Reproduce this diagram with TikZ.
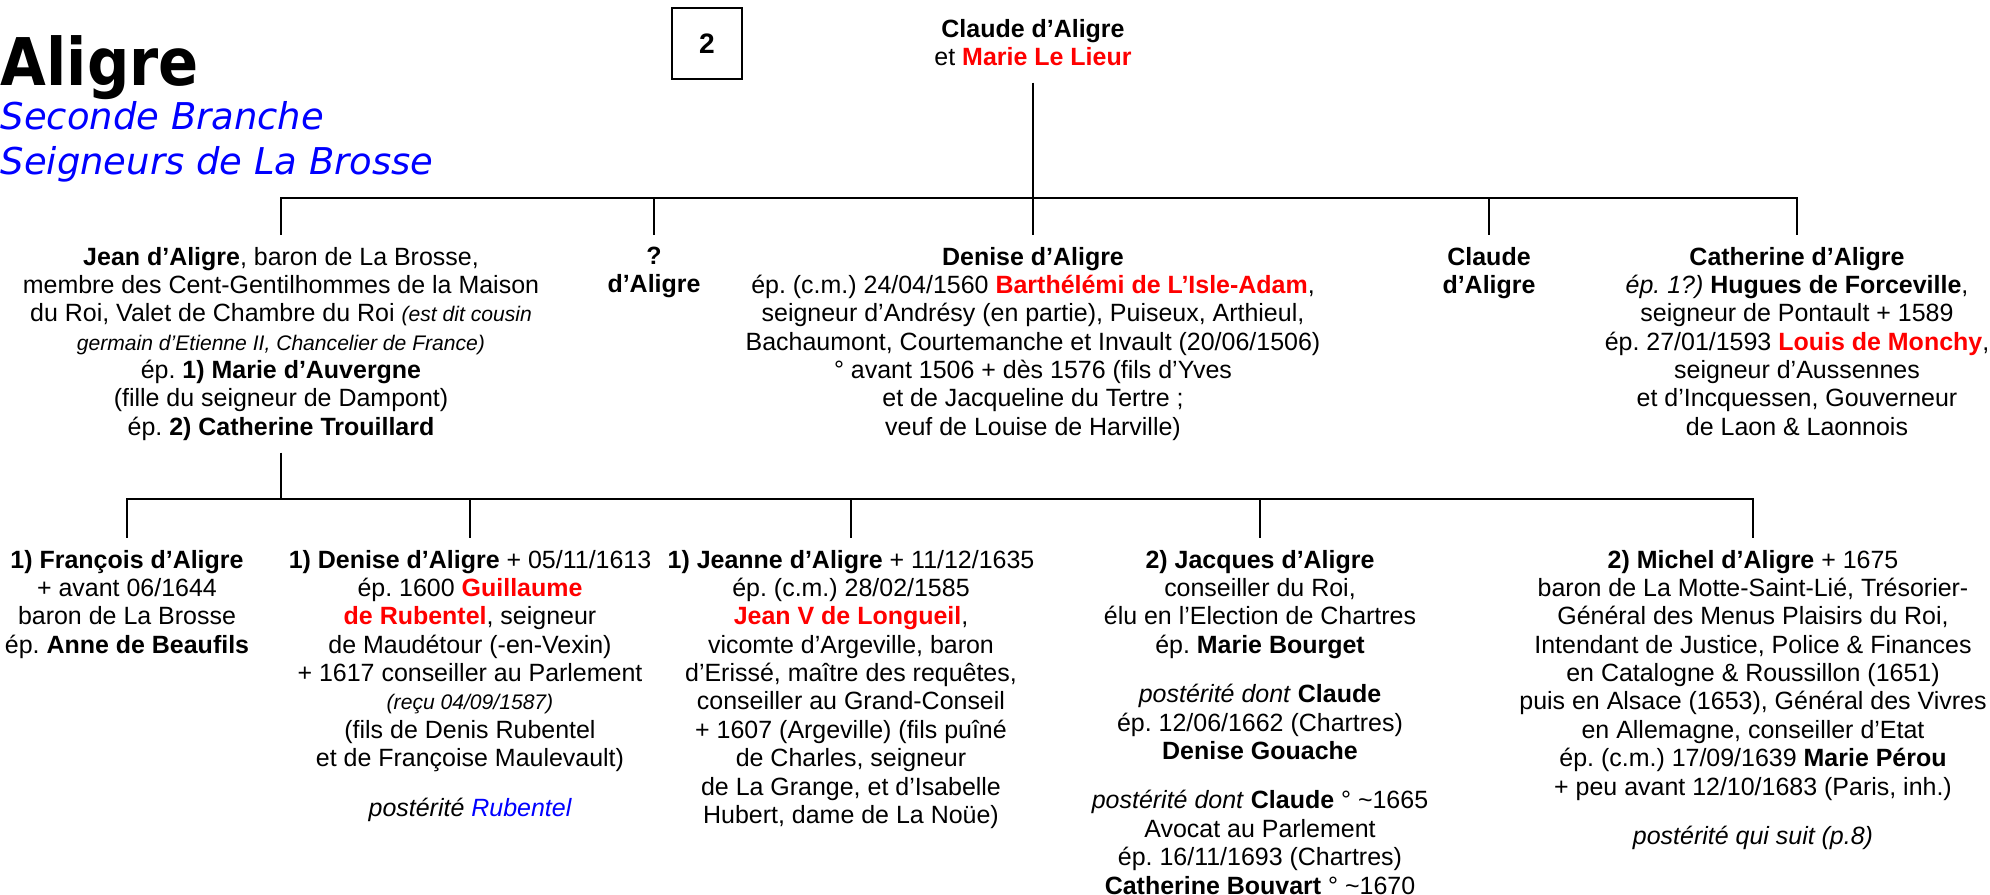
\documentclass[tikz,border=0pt]{standalone}
\usepackage{fontspec}
\setmainfont{Liberation Sans}
\newfontfamily\titrefont[FakeStretch=0.9]{DejaVu Sans}
\newfontfamily\sousfont{DejaVu Sans}
\usetikzlibrary{positioning,calc}
\definecolor{nomrouge}{RGB}{255,0,0}
\definecolor{nombleu}{RGB}{0,0,255}
\newcommand{\rouge}[1]{\textcolor{nomrouge}{\textbf{#1}}}
\newcommand{\petit}[1]{{\fontsize{6}{8.07}\selectfont\itshape #1}}
\frenchspacing

\begin{document}
\begin{tikzpicture}[x=0.01cm,y=-0.01cm,
  person/.style={anchor=north,align=center,inner sep=0pt,outer ysep=0.12cm,
    font=\fontsize{7.1}{8.07}\selectfont},
  bar/.style={line width=0.8pt}]
  \useasboundingbox (0,0) rectangle (1990,895);
  % Title
  \node[anchor=base west,inner sep=0pt,
    font=\titrefont\bfseries\fontsize{18.7}{20}\selectfont] (titre) at (0,86) {Aligre};
  \node[anchor=base west,inner sep=0pt,text=nombleu,
    font=\sousfont\itshape\fontsize{10.5}{12}\selectfont] (branche) at (0,130) {Seconde Branche};
  \node[anchor=base west,inner sep=0pt,text=nombleu,
    font=\sousfont\itshape\fontsize{10.5}{12}\selectfont] (seigneurs) at (0,175) {Seigneurs de La Brosse};
  \node[draw,line width=0.45pt,minimum width=0.7cm,minimum height=0.71cm,
    font=\bfseries\fontsize{8}{9}\selectfont] (numero) at (707,43.5) {2};
  % Parents
  \node[person,outer ysep=0.17cm] (parents) at (1033,2)
    {\textbf{Claude d’Aligre}\\ et \rouge{Marie Le Lieur}};
  \coordinate (barre1) at (0,198);
  \coordinate (barre2) at (0,499);
  % Children
  \node[person] (jean) at (281,235)
    {\textbf{Jean d’Aligre}, baron de La Brosse,\\
     membre des Cent-Gentilhommes de la Maison\\
     du Roi, Valet de Chambre du Roi \petit{(est dit cousin}\\
     \petit{germain d’Etienne II, Chancelier de France)}\\
     ép. \textbf{1) Marie d’Auvergne}\\
     (fille du seigneur de Dampont)\\
     ép. \textbf{2) Catherine Trouillard}};
  \node[person] (inconnu) at (654,235) {\textbf{?}\\ \textbf{d’Aligre}};
  \node[person] (denise) at (1033,235)
    {\textbf{Denise d’Aligre}\\
     ép. (c.m.) 24/04/1560 \rouge{Barthélémi de L’Isle-Adam},\\
     seigneur d’Andrésy (en partie), Puiseux, Arthieul,\\
     Bachaumont, Courtemanche et Invault (20/06/1506)\\
     ° avant 1506 + dès 1576 (fils d’Yves\\
     et de Jacqueline du Tertre ;\\
     veuf de Louise de Harville)};
  \node[person] (claude) at (1489,235) {\textbf{Claude}\\ \textbf{d’Aligre}};
  \node[person] (catherine) at (1797,235)
    {\textbf{Catherine d’Aligre}\\
     \textit{ép. 1?)} \textbf{Hugues de Forceville},\\
     seigneur de Pontault + 1589\\
     ép. 27/01/1593 \rouge{Louis de Monchy},\\
     seigneur d’Aussennes\\
     et d’Incquessen, Gouverneur\\
     de Laon \& Laonnois};
  % Grandchildren
  \node[person] (francois) at (127,538)
    {\textbf{1) François d’Aligre}\\
     + avant 06/1644\\
     baron de La Brosse\\
     ép. \textbf{Anne de Beaufils}};
  \node[person] (denise2) at (470,538)
    {\textbf{1) Denise d’Aligre} + 05/11/1613\\
     ép. 1600 \rouge{Guillaume}\\
     \rouge{de Rubentel}, seigneur\\
     de Maudétour (-en-Vexin)\\
     + 1617 conseiller au Parlement\\
     \petit{(reçu 04/09/1587)}\\
     (fils de Denis Rubentel\\
     et de Françoise Maulevault)\\[6pt]
     \textit{postérité \textcolor{nombleu}{Rubentel}}};
  \node[person] (jeanne) at (851,538)
    {\textbf{1) Jeanne d’Aligre} + 11/12/1635\\
     ép. (c.m.) 28/02/1585\\
     \rouge{Jean V de Longueil},\\
     vicomte d’Argeville, baron\\
     d’Erissé, maître des requêtes,\\
     conseiller au Grand-Conseil\\
     + 1607 (Argeville) (fils puîné\\
     de Charles, seigneur\\
     de La Grange, et d’Isabelle\\
     Hubert, dame de La Noüe)};
  \node[person] (jacques) at (1260,538)
    {\textbf{2) Jacques d’Aligre}\\
     conseiller du Roi,\\
     élu en l’Election de Chartres\\
     ép. \textbf{Marie Bourget}\\[6pt]
     \textit{postérité dont} \textbf{Claude}\\
     ép. 12/06/1662 (Chartres)\\
     \textbf{Denise Gouache}\\[6pt]
     \textit{postérité dont} \textbf{Claude} ° \textasciitilde1665\\
     Avocat au Parlement\\
     ép. 16/11/1693 (Chartres)\\
     \textbf{Catherine Bouvart} ° \textasciitilde1670};
  \node[person] (michel) at (1753,538)
    {\textbf{2) Michel d’Aligre} + 1675\\
     baron de La Motte-Saint-Lié, Trésorier-\\
     Général des Menus Plaisirs du Roi,\\
     Intendant de Justice, Police \& Finances\\
     en Catalogne \& Roussillon (1651)\\
     puis en Alsace (1653), Général des Vivres\\
     en Allemagne, conseiller d’Etat\\
     ép. (c.m.) 17/09/1639 \textbf{Marie Pérou}\\
     + peu avant 12/10/1683 (Paris, inh.)\\[6pt]
     \textit{postérité qui suit (p.8)}};
  % Connectors
  \draw[bar] (parents.south) -- (denise.north);
  \draw[bar] (jean.north) -- (jean.north |- barre1)
    -- (catherine.north |- barre1) -- (catherine.north);
  \foreach \n in {inconnu,claude}
    \draw[bar] (\n.north) -- (\n.north |- barre1);
  \draw[bar] (jean.south) -- (jean.south |- barre2);
  \draw[bar] (francois.north) -- (francois.north |- barre2)
    -- (michel.north |- barre2) -- (michel.north);
  \foreach \n in {denise2,jeanne,jacques}
    \draw[bar] (\n.north) -- (\n.north |- barre2);
\end{tikzpicture}
\end{document}
